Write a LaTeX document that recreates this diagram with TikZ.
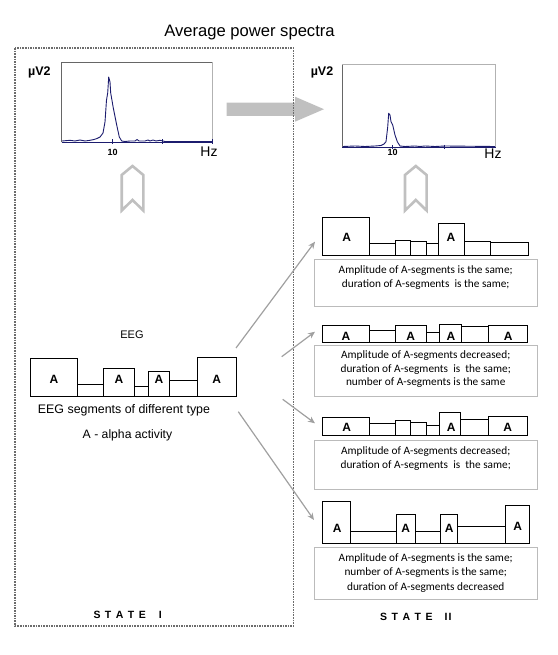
\documentclass[tikz,border=0pt]{standalone}
\usepackage{fontspec}
\setmainfont{Liberation Sans}
\newfontfamily\calfont{Carlito}
\usetikzlibrary{arrows.meta}
\definecolor{navy}{HTML}{1C1C6E}
\definecolor{lgray}{HTML}{C0C0C0}
\definecolor{bgray}{HTML}{BBBBBB}
\definecolor{agray}{HTML}{A0A0A0}
\begin{document}
\begin{tikzpicture}[x=1pt,y=-1pt,
  seg/.style={draw=black, line width=0.9pt},
  tbox/.style={draw=bgray, line width=1pt, inner sep=0pt, minimum width=223pt},
  ttext/.style={font=\calfont\fontsize{11.3}{13.6}\selectfont, align=center, inner sep=0pt},
  alab/.style={font=\bfseries\fontsize{12}{14}\selectfont, inner sep=0pt},
  conn/.style={draw=agray, line width=1.2pt, -{Stealth[length=7pt,width=6pt]}},
  chev/.style={draw=lgray, line width=2.6pt, line join=miter},
  spec/.style={draw=navy, line width=0.9pt, line join=round},
  frame/.style={draw=gray!80!black, line width=0.9pt},
  lbl/.style={inner sep=0pt},
  statelbl/.style={font=\bfseries\fontsize{10.5}{12}\selectfont, inner sep=0pt}
]
\useasboundingbox (0,0) rectangle (557,655);

% title
\node[lbl, font=\fontsize{16.6}{20}\selectfont] (title) at (249.5,33) {Average power spectra};

% big gray arrow (under dotted frame)
\fill[lgray] (226.7,102.7) -- (295,102.7) -- (295,96.7) -- (324,109.2) -- (295,121.7) -- (295,116) -- (226.7,116) -- cycle;

% dotted state I frame
\draw[gray!85!black, line width=1.6pt, densely dotted] (15,48.3) rectangle (293.6,625.7);

% ---------- left spectrum ----------
\draw[frame] (61.7,142.3) -- (61.7,62.3) -- (212.3,62.3);
\draw[gray!60, line width=0.9pt] (212.3,62.3) -- (212.3,142.3);
\draw[spec] (61.7,142.3) -- (212.3,142.3);
\foreach \t in {112.5,162.5,212.3} \draw[navy, line width=0.8pt] (\t,139.5) -- (\t,144.5);
\draw[spec] plot coordinates {(62,141)(70,140.3)(75,141)(80,140)(85,141)(90,140.3)(94,139.5)(97,138.5)(100,137)(103,133)(105,122)(106.5,100)(107.7,93)(108.7,77)(110,82)(110.7,93)(113.3,108)(116.7,125)(119.3,137)(121.7,141)(125,141.5)(130,141)(135,141)(137,139.5)(139,141)(145,141)(148,140)(150,141)(153,140)(156,141)(160,140.3)(165,141.5)(212,141.5)};
\node[lbl, font=\bfseries\fontsize{12.5}{14}\selectfont] (uv1) at (39.3,72.5) {µV2};
\node[lbl, font=\bfseries\fontsize{9}{10}\selectfont] (ten1) at (112.7,152) {10};
\node[lbl, font=\fontsize{14}{16}\selectfont] (hz1) at (209,151.7) {Hz};

% ---------- right spectrum ----------
\draw[frame] (342.3,147.3) -- (342.3,64.3);
\draw[gray!60, line width=0.9pt] (342.3,64.3) -- (495.7,64.3) -- (495.7,147.3);
\draw[spec] (342.3,147.3) -- (495.7,147.3);
\foreach \t in {392.7,444.6} \draw[navy, line width=0.8pt] (\t,145) -- (\t,149.5);
\draw[spec] plot coordinates {(343,146.5)(355,146)(365,146.5)(375,146)(381,145.5)(384,144)(386,141.7)(387.7,127)(388.7,113.3)(390,115)(391,121.7)(392.7,125)(395,135)(397.3,141.7)(400,146)(405,146.5)(415,146)(420,146.5)(425,146)(435,146.5)(445,146)(495,146.5)};
\node[lbl, font=\bfseries\fontsize{12.5}{14}\selectfont] (uv2) at (322,72.5) {µV2};
\node[lbl, font=\bfseries\fontsize{9}{10}\selectfont] (ten2) at (392.7,152.7) {10};
\node[lbl, font=\fontsize{14}{16}\selectfont] (hz2) at (493,153.3) {Hz};

% ---------- hollow up arrows ----------
\draw[chev] (121.7,175) -- (132.5,166) -- (143.3,175) -- (143.3,210.5) -- (132.5,200) -- (121.7,210.5) -- cycle;
\draw[chev] (405,175) -- (415.8,166) -- (426.6,175) -- (426.6,210.5) -- (415.8,200) -- (405,210.5) -- cycle;

% ---------- left EEG ----------
\node[lbl, font=\fontsize{11}{13}\selectfont] (eeg) at (132,335) {EEG};
\draw[seg] (30.7,358.3) rectangle (77.3,396.7);
\draw[seg] (77.3,384.3) rectangle (103.7,396.7);
\draw[seg] (103.7,368.3) rectangle (134.3,396.7);
\draw[seg] (134.3,386) rectangle (148.3,396.7);
\draw[seg] (148.3,371) rectangle (169.3,396.7);
\draw[seg] (169.3,380.3) rectangle (197.3,396.7);
\draw[seg] (197.3,357.3) rectangle (236.3,396.7);
\node[alab] (la1) at (54,379) {A};
\node[alab] (la2) at (119,379) {A};
\node[alab] (la3) at (159,379) {A};
\node[alab] (la4) at (216.7,379) {A};
\node[lbl, font=\fontsize{12.4}{14}\selectfont] (segtxt) at (124,410) {EEG segments of different type};
\node[lbl, font=\fontsize{12.2}{14}\selectfont] (alpha) at (127.5,435) {A - alpha activity};

% ---------- panel 1 ----------
\draw[seg] (322.3,217.3) rectangle (369,255);
\draw[seg] (369,243.3) rectangle (395.7,255);
\draw[seg] (395.7,240.3) rectangle (410.7,255);
\draw[seg] (410.7,241.7) rectangle (426.7,255);
\draw[seg] (426.7,243.3) rectangle (438.3,255);
\draw[seg] (438.3,223.3) rectangle (464,255);
\draw[seg] (464,241) rectangle (490,255);
\draw[seg] (490,242.7) rectangle (528.3,255);
\node[alab] (p1a1) at (346.7,237.7) {A};
\node[alab] (p1a2) at (451,237.7) {A};
\node[tbox, minimum height=47.7pt] (tb1) at (425.7,282.85) {};
\node[ttext, anchor=north] (tt1) at (425.7,265.5) {Amplitude of A-segments is the same;\\duration of A-segments\ \ is the same;};

% ---------- panel 2 ----------
\draw[seg] (322.3,325.7) rectangle (369,342.7);
\draw[seg] (369,330.7) rectangle (395,342.7);
\draw[seg] (395,325) rectangle (426.7,342.7);
\draw[seg] (426.7,332.7) rectangle (439,342.7);
\draw[seg] (439,324.3) rectangle (461,342.7);
\draw[seg] (461,326) rectangle (488.3,342.7);
\draw[seg] (488.3,325) rectangle (527.7,342.7);
\node[alab] (p2a1) at (346,336) {A};
\node[alab] (p2a2) at (410.7,336) {A};
\node[alab] (p2a3) at (451,336) {A};
\node[alab] (p2a4) at (508.3,336) {A};
\node[tbox, minimum height=50.3pt] (tb2) at (425.7,370.85) {};
\node[ttext, anchor=north] (tt2) at (425.7,350.5) {Amplitude of A-segments decreased;\\duration of A-segments\ \ is\ \ the same;\\number of A-segments is the same};

% ---------- panel 3 ----------
\draw[seg] (322.3,417.7) rectangle (369,435.7);
\draw[seg] (369,423.3) rectangle (395.7,435.7);
\draw[seg] (395.7,420.7) rectangle (410,435.7);
\draw[seg] (410,422) rectangle (426.7,435.7);
\draw[seg] (426.7,425.7) rectangle (439,435.7);
\draw[seg] (439,412.7) rectangle (460.7,435.7);
\draw[seg] (460.7,419.3) rectangle (488.3,435.7);
\draw[seg] (488.3,416.7) rectangle (527.3,435.7);
\node[alab] (p3a1) at (346.7,427.3) {A};
\node[alab] (p3a2) at (451.3,427.3) {A};
\node[alab] (p3a3) at (507.7,427.3) {A};
\node[tbox, minimum height=49pt] (tb3) at (425.7,464.5) {};
\node[ttext, anchor=north] (tt3) at (425.7,446.5) {Amplitude of A-segments decreased;\\duration of A-segments\ \ is\ \ the same;};

% ---------- panel 4 ----------
\draw[seg] (322.3,501) rectangle (350.7,543.3);
\draw[seg] (350.7,531) rectangle (396,543.3);
\draw[seg] (396,514) rectangle (415,543.3);
\draw[seg] (415,531) rectangle (440.7,543.3);
\draw[seg] (440.7,514.7) rectangle (457.3,543.3);
\draw[seg] (457.3,526) rectangle (505.7,543.3);
\draw[seg] (505.7,505) rectangle (529.3,543.3);
\node[alab] (p4a1) at (337.3,528.3) {A};
\node[alab] (p4a2) at (405.7,528.3) {A};
\node[alab] (p4a3) at (449.3,528.3) {A};
\node[alab] (p4a4) at (517.7,526.7) {A};
\node[tbox, minimum height=51.7pt] (tb4) at (425.7,573.15) {};
\node[ttext, anchor=north, font=\calfont\fontsize{11.3}{14.5}\selectfont] (tt4) at (425.7,553) {Amplitude of A-segments is the same;\\number of A-segments is the same;\\duration of A-segments decreased};

% ---------- connectors ----------
\coordinate (s1) at (236,348);
\coordinate (s2) at (281.7,356.7);
\coordinate (s3) at (282.7,399.3);
\coordinate (s4) at (238.3,411.7);
\coordinate (e1) at (315,241.7);
\coordinate (e2) at (315,331.7);
\coordinate (e3) at (315,423.3);
\coordinate (e4) at (314,520);
\draw[conn] (s1) -- (e1);
\draw[conn] (s2) -- (e2);
\draw[conn] (s3) -- (e3);
\draw[conn] (s4) -- (e4);

% ---------- state labels ----------
\node[statelbl, anchor=base west] (st1) at (93.3,618.3) {S\hspace{4.5pt}T\hspace{4.5pt}A\hspace{4.5pt}T\hspace{4.5pt}E\hspace{13pt}I};
\node[statelbl, anchor=base west] (st2) at (380,620) {S\hspace{4.5pt}T\hspace{4.5pt}A\hspace{4.5pt}T\hspace{4.5pt}E\hspace{12pt}I\hspace{1pt}I};
\end{tikzpicture}
\end{document}
